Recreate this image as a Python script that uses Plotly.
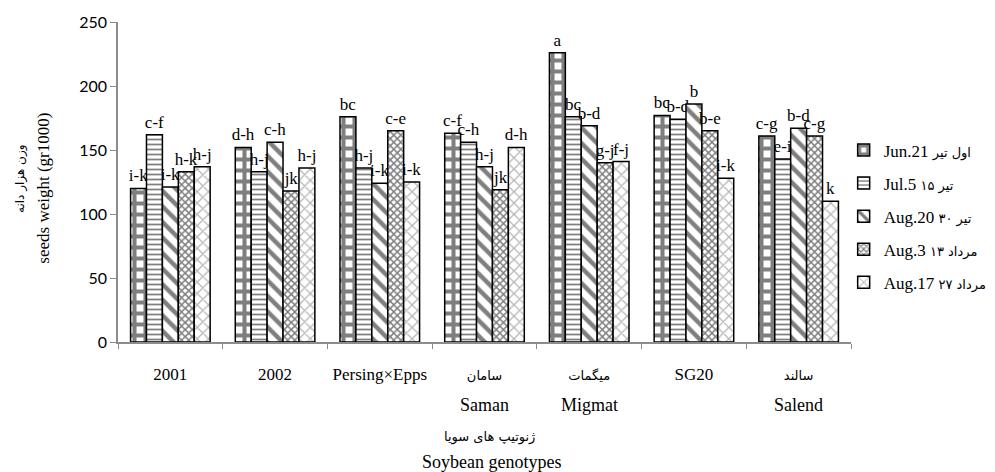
import plotly.graph_objects as go

categories = ["2001", "2002", "Persing×Epps", "سامان", "میگمات", "SG20", "سالند"]
second_line = {"سامان": "Saman", "میگمات": "Migmat", "سالند": "Salend"}

series_en = ["Jun.21", "Jul.5", "Aug.20", "Aug.3", "Aug.17"]
series_fa = ["اول تیر", "۱۵ تیر", "۳۰ تیر", "۱۳ مرداد", "۲۷ مرداد"]

jun21 = [120, 152, 176, 163, 226, 177, 161]
jul5 = [162, 133, 136, 156, 176, 174, 143]
aug20 = [121, 156, 124, 137, 169, 186, 167]
aug3 = [133, 118, 165, 119, 140, 165, 161]
aug17 = [137, 136, 125, 152, 141, 128, 110]

lab_jun21 = ["i-k", "d-h", "bc", "c-f", "a", "bc", "c-g"]
lab_jul5 = ["c-f", "h-j", "h-j", "c-h", "bc", "b-d", "e-i"]
lab_aug20 = ["i-k", "c-h", "i-k", "h-j", "b-d", "b", "b-d"]
lab_aug3 = ["h-k", "jk", "c-e", "jk", "g-j", "b-e", "c-g"]
lab_aug17 = ["h-j", "h-j", "i-k", "d-h", "f-j", "i-k", "k"]

values = [jun21, jul5, aug20, aug3, aug17]
labels = [lab_jun21, lab_jul5, lab_aug20, lab_aug3, lab_aug17]

patterns = [
    dict(shape="+", size=11, solidity=0.6, fgcolor="black", bgcolor="white"),
    dict(shape="-", size=5, solidity=0.35, fgcolor="black", bgcolor="white"),
    dict(shape="\\", size=11, solidity=0.4, fgcolor="black", bgcolor="white"),
    dict(shape="x", size=5, solidity=0.5, fgcolor="black", bgcolor="white"),
    dict(shape="x", size=8, solidity=0.3, fgcolor="#707070", bgcolor="white"),
]

SERIF = "Liberation Serif, Times New Roman, DejaVu Serif, serif"
FA_STYLE = "font-size:13px;font-family:DejaVu Sans"


def is_persian(s):
    return any("\u0600" <= ch <= "\u06ff" for ch in s)


tick_text = [f"<span style='{FA_STYLE}'>{c}</span>" if is_persian(c) else c for c in categories]
legend_names = [f"{e} <span style='{FA_STYLE}'>{f}</span>" for e, f in zip(series_en, series_fa)]

fig = go.Figure()
for i in range(5):
    fig.add_trace(go.Bar(
        x=categories, y=values[i], name=legend_names[i],
        text=labels[i], textposition="outside", constraintext="none",
        textfont=dict(family=SERIF, size=17, color="black"),
        cliponaxis=False,
        legendgroup=str(i),
        marker=dict(color="white", line=dict(color="black", width=1.5),
                    pattern=patterns[i]),
    ))

for c, s in second_line.items():
    fig.add_annotation(x=c, y=-0.197, xref="x", yref="paper", text=s,
                       showarrow=False, yanchor="middle",
                       font=dict(family=SERIF, size=18, color="black"))

fig.add_annotation(x=0.507, y=-0.297, xref="paper", yref="paper",
                   text="ژنوتیپ های سویا", showarrow=False, yanchor="middle",
                   font=dict(family="DejaVu Sans", size=13, color="black"))
fig.add_annotation(x=0.51, y=-0.375, xref="paper", yref="paper",
                   text="Soybean genotypes", showarrow=False, yanchor="middle",
                   font=dict(family=SERIF, size=18, color="black"))
fig.add_annotation(x=-0.132, y=0.51, xref="paper", yref="paper",
                   text="وزن هزار دانه", showarrow=False, textangle=-90,
                   xanchor="center", yanchor="middle",
                   font=dict(family="DejaVu Sans", size=12, color="black"))
fig.add_annotation(x=-0.102, y=0.48, xref="paper", yref="paper",
                   text="seeds weight (gr1000)", showarrow=False, textangle=-90,
                   xanchor="center", yanchor="middle",
                   font=dict(family=SERIF, size=17, color="black"))

fig.update_layout(
    width=987, height=464,
    margin=dict(l=110, r=144, t=14, b=130, autoexpand=False),
    paper_bgcolor="white", plot_bgcolor="white",
    barmode="group", bargap=0.24, bargroupgap=0,
    showlegend=True,
    legend=dict(x=0.99, y=0.655, xanchor="left", yanchor="top",
                font=dict(family=SERIF, size=17, color="black"),
                tracegroupgap=8, bgcolor="rgba(0,0,0,0)", itemwidth=30),
    xaxis=dict(type="category", showline=True, linecolor="#8c8c8c", linewidth=1.5,
               ticks="outside", ticklen=5, tickcolor="#8c8c8c", tickson="boundaries",
               tickvals=categories, ticktext=tick_text,
               showgrid=False, ticklabelstandoff=16, tickangle=0, automargin=False,
               tickfont=dict(family=SERIF, size=17, color="black")),
    yaxis=dict(range=[0, 250], dtick=50, showline=True, linecolor="#8c8c8c",
               linewidth=1.5, ticks="outside", ticklen=6, tickcolor="#8c8c8c",
               showgrid=False, zeroline=False, automargin=False,
               tickfont=dict(family="Lato, Open Sans, sans-serif", size=16, color="black")),
)

fig.write_html("out.html")
